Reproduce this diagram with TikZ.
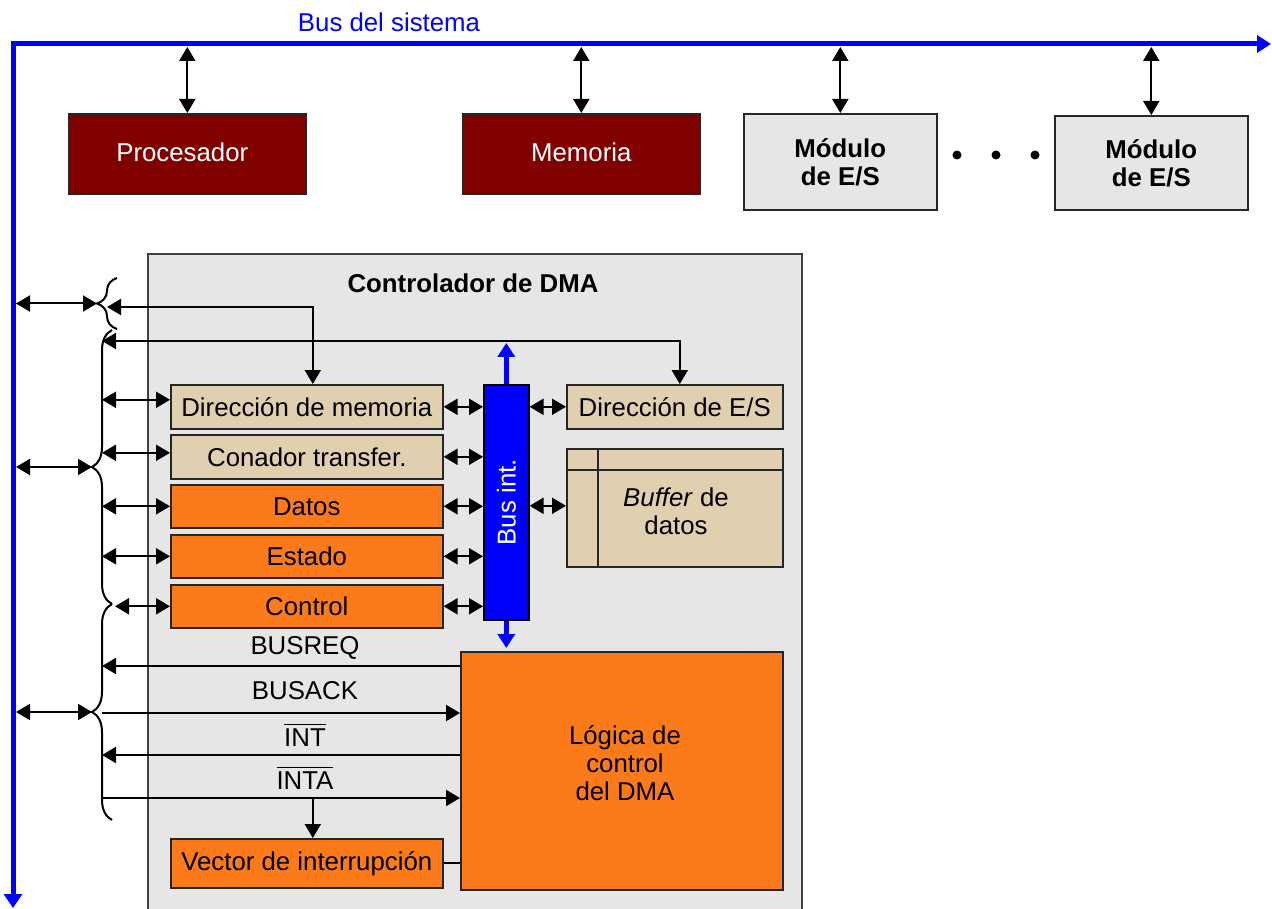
\documentclass[tikz,border=0pt]{standalone}
\usepackage{fontspec}
\setmainfont{Liberation Sans}
\usetikzlibrary{arrows.meta,decorations.pathreplacing}
\definecolor{dkred}{RGB}{128,0,0}
\definecolor{orng}{RGB}{251,123,27}
\definecolor{regtan}{RGB}{225,208,175}
\definecolor{lgray}{RGB}{230,230,230}
\definecolor{busblue}{RGB}{0,0,255}
\newcommand\myovl[1]{\vbox{\hrule height 1.6pt\kern 3pt\hbox{#1}}}
\begin{document}
\begin{tikzpicture}[x=1pt,y=-1pt,
  every node/.style={font=\fontsize{25.8}{28}\selectfont, inner sep=0pt},
  box/.style={draw=black!85, line width=1.6pt, anchor=north west},
  regbox/.style={box, minimum width=272pt, minimum height=44pt},
  tanbox/.style={regbox, fill=regtan},
  orbox/.style={regbox, fill=orng},
  bold/.style={font=\fontsize{25.8}{28}\selectfont\bfseries},
  dbl/.style={{Triangle[length=14pt,width=16pt]}-{Triangle[length=14pt,width=16pt]}, line width=2pt},
  sarr/.style={-{Triangle[length=14pt,width=16pt]}, line width=2pt},
  bracedeco/.style={decorate, decoration={brace, amplitude=20pt}, line width=2pt},
  bluearr/.style={-{Triangle[length=14pt,width=17pt]}, busblue, line width=5pt}]
\useasboundingbox (0,0) rectangle (1272,909);
\clip (0,0) rectangle (1272,909);

% DMA controller frame
\node[box, fill=lgray, draw=black!75, minimum width=654pt, minimum height=680pt] (dma) at (147,253) {};
\node[bold] (title) at (473,283) {Controlador de DMA};

% system bus
\coordinate (busBL) at (13,908);
\coordinate (busTL) at (13,44);
\coordinate (busTR) at (1271,44);
\draw[line width=5pt, busblue, {Triangle[length=14pt,width=18pt]}-{Triangle[length=14pt,width=17pt]}] (busBL) -- (busTL) -- (busTR);
\node[text=busblue] (buslbl) at (389,22) {Bus del sistema};
\coordinate (busY) at (0,47);
\coordinate (busX) at (16,0);

% top modules
\node[box, fill=dkred, text=white, minimum width=237pt, minimum height=80pt] (proc) at (68,113) {\raisebox{3pt}{Procesador}\kern10pt};
\node[box, fill=dkred, text=white, minimum width=237pt, minimum height=80pt] (mem) at (462,113) {\raisebox{3pt}{Memoria}};
\node[box, fill=lgray, minimum width=193pt, minimum height=96pt, bold, align=center] (es1) at (743,113) {Módulo\\de E/S};
\node[box, fill=lgray, minimum width=193pt, minimum height=94pt, bold, align=center] (es2) at (1054,115) {Módulo\\de E/S};
\foreach \x/\n in {957/d1,996/d2,1035/d3}
  \node[circle, fill=black, minimum size=9pt, inner sep=0pt] (\n) at (\x,155) {};
\foreach \n in {proc,mem,es1,es2}
  \draw[dbl] (\n.north |- busY) -- (\n.north);

% registers
\node[tanbox] (dm) at (170,384) {Dirección de memoria};
\node[tanbox] (ct) at (170,434) {Conador transfer.};
\node[orbox, minimum height=43pt] (dat) at (170,484) {Datos};
\node[orbox, minimum height=43pt] (est) at (170,534) {Estado};
\node[orbox, minimum height=43pt] (ctl) at (170,584) {Control};
\node[box, fill=busblue, draw=black, minimum width=45pt, minimum height=235pt] (bi) at (483,384) {};
\node[rotate=90, text=white] (bitext) at (bi.center) {Bus int.};
\node[tanbox, minimum width=216pt] (des) at (566,384) {Dirección de E/S};
\node[box, fill=regtan, minimum width=216pt, minimum height=118pt] (buf) at (566,448) {};
\draw[line width=1.6pt, draw=black!85] ([yshift=-22pt]buf.north west) -- ([yshift=-22pt]buf.north east);
\draw[line width=1.6pt, draw=black!85] ([xshift=32pt]buf.north west) -- ([xshift=32pt]buf.south west);
\node[align=center] (buftext) at (676,511) {\textit{Buffer} de\\datos};
\node[box, fill=orng, minimum width=322pt, minimum height=238pt] (logic) at (460,651) {};
\node[align=center] (logictext) at (625,763) {Lógica de\\control\\del DMA};
\node[orbox, minimum height=49pt] (vec) at (170,838) {Vector de interrupción};

% internal bus connections
\foreach \n in {dm,ct,dat,est,ctl}
  \draw[dbl] (\n.east) -- (\n.east -| bi.west);
\draw[dbl] (bi.east |- des.west) -- (des.west);
\coordinate (bufin) at ([yshift=2pt]buf.west);
\draw[dbl] (bi.east |- bufin) -- (bufin);
\coordinate (bup) at (0,343);
\coordinate (bdn) at (0,648);
\draw[bluearr] (bi.north) -- (bi.north |- bup);
\draw[bluearr] (bi.south) -- (bi.south |- bdn);

% braces
\draw[bracedeco] (117,329) -- (117,278);
\draw[bracedeco] (112,604) -- (112,330);
\draw[bracedeco] (112,820) -- (112,604);
\coordinate (b1) at (97,303.5);
\coordinate (b2) at (92,467);
\coordinate (b3) at (92,712);
\draw[dbl] (busX |- b1) -- (b1);
\draw[dbl] (busX |- b2) -- (b2);
\draw[dbl] (busX |- b3) -- (b3);

% address lines to braces
\coordinate (v1) at (107,307);
\coordinate (v2) at (102,341);
\draw[dbl] ([xshift=6pt]dm.north) |- (v1);
\draw[dbl] ([xshift=5pt]des.north) |- (v2);

% register connections to brace
\coordinate (dmin) at ([yshift=7pt]dm.west);
\coordinate (ctin) at ([yshift=4pt]ct.west);
\coordinate (c3) at (115,0);
\draw[dbl] (dmin -| v2) -- (dmin);
\draw[dbl] (ctin -| v2) -- (ctin);
\draw[dbl] (dat.west -| v2) -- (dat.west);
\draw[dbl] (est.west -| v2) -- (est.west);
\draw[dbl] (ctl.west -| c3) -- (ctl.west);

% control signals
\coordinate (sreq) at ([yshift=-15pt]logic.north west);
\coordinate (sack) at ([yshift=-62pt]logic.north west);
\coordinate (sint) at ([yshift=-104pt]logic.north west);
\coordinate (sinta) at ([yshift=-147pt]logic.north west);
\draw[sarr] (sreq) -- (sreq -| v2);
\draw[sarr] (sack -| v2) -- (sack);
\draw[sarr] (sint) -- (sint -| v2);
\draw[sarr] (sinta -| v2) -- (sinta);
\coordinate (vtop) at ([xshift=6pt]vec.north);
\draw[sarr] (sinta -| vtop) -- (vtop);
\draw[line width=2pt] (vec.east) -- (vec.east -| logic.west);
\node (lreq) at (305,648) {BUSREQ};
\node (lack) at (305,691) {BUSACK};
\node (lint) at (305,735) {\myovl{INT}};
\node (linta) at (305,778) {\myovl{INTA}};
\end{tikzpicture}
\end{document}
